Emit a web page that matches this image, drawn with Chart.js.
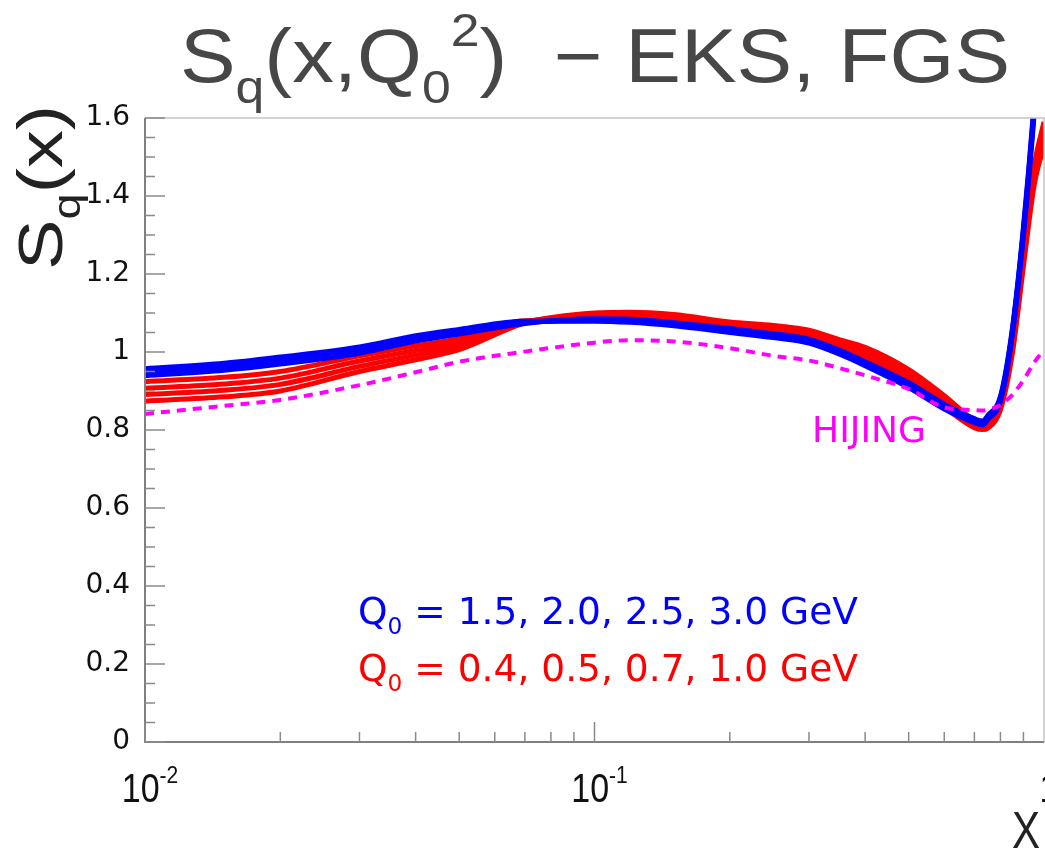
<!DOCTYPE html>
<html>
<head>
<meta charset="utf-8">
<script src="https://cdn.jsdelivr.net/npm/chart.js@4.4.1/dist/chart.umd.min.js"></script>
<style>
  html, body { margin: 0; padding: 0; background: #fff; }
  #wrap { position: relative; width: 1045px; height: 851px; }
</style>
</head>
<body>
<div id="wrap"><canvas id="sqChart" width="1045" height="851"></canvas></div>
<script>
// x grid shared by every curve (log axis 1e-2 .. 1)
const xGrid = [0.01, 0.015, 0.02, 0.03, 0.04, 0.05, 0.07, 0.1, 0.12, 0.15, 0.2, 0.25, 0.3, 0.35, 0.4, 0.5, 0.6, 0.7, 0.73, 0.75, 0.8, 0.85, 0.9, 0.95, 1.0];

// EKS-like curves, Q0 = 1.5, 2.0, 2.5, 3.0 GeV (blue)
const blue15 = [0.957, 0.971, 0.987, 1.013, 1.042, 1.058, 1.079, 1.079, 1.076, 1.067, 1.050, 1.037, 1.023, 0.995, 0.965, 0.909, 0.854, 0.819, 0.813, 0.827, 0.874, 1.043, 1.300, 1.605, 1.980];
const blue20 = [0.951, 0.965, 0.981, 1.008, 1.037, 1.054, 1.077, 1.081, 1.079, 1.070, 1.053, 1.040, 1.026, 0.998, 0.968, 0.913, 0.858, 0.822, 0.816, 0.830, 0.878, 1.048, 1.307, 1.615, 1.993];
const blue25 = [0.945, 0.959, 0.975, 1.002, 1.033, 1.050, 1.075, 1.083, 1.081, 1.072, 1.057, 1.044, 1.030, 1.002, 0.972, 0.917, 0.862, 0.826, 0.820, 0.834, 0.882, 1.053, 1.313, 1.625, 2.007];
const blue30 = [0.939, 0.953, 0.969, 0.997, 1.028, 1.046, 1.073, 1.085, 1.084, 1.075, 1.060, 1.047, 1.033, 1.005, 0.975, 0.921, 0.866, 0.829, 0.823, 0.837, 0.886, 1.058, 1.320, 1.635, 2.020];

// FGS-like curves, Q0 = 0.4, 0.5, 0.7, 1.0 GeV (red)
const red04 = [0.924, 0.935, 0.950, 0.990, 1.016, 1.034, 1.080, 1.082, 1.082, 1.074, 1.055, 1.044, 1.032, 1.004, 0.982, 0.919, 0.858, 0.806, 0.801, 0.805, 0.852, 0.995, 1.220, 1.425, 1.530];
const red05 = [0.907, 0.918, 0.933, 0.977, 1.004, 1.025, 1.078, 1.088, 1.089, 1.081, 1.062, 1.052, 1.040, 1.013, 0.992, 0.931, 0.868, 0.812, 0.806, 0.810, 0.859, 1.005, 1.233, 1.442, 1.550];
const red07 = [0.891, 0.902, 0.917, 0.963, 0.992, 1.015, 1.076, 1.094, 1.095, 1.089, 1.070, 1.060, 1.048, 1.023, 1.002, 0.943, 0.878, 0.818, 0.810, 0.814, 0.865, 1.015, 1.247, 1.458, 1.570];
const red10 = [0.874, 0.885, 0.900, 0.950, 0.980, 1.006, 1.074, 1.100, 1.102, 1.096, 1.077, 1.068, 1.056, 1.032, 1.012, 0.955, 0.888, 0.824, 0.815, 0.819, 0.872, 1.025, 1.260, 1.475, 1.590];

// HIJING parametrisation (magenta dashed)
const hijing = [0.841, 0.862, 0.877, 0.915, 0.948, 0.975, 1.001, 1.024, 1.030, 1.027, 1.010, 0.990, 0.978, 0.959, 0.940, 0.905, 0.858, 0.851, 0.850, 0.852, 0.864, 0.890, 0.928, 0.972, 1.005];

// axis tick labels
const xTickValues = [0.01, 0.1, 1];
const xTickLabels = [["10", "-2"], ["10", "-1"], ["1", ""]];
const blueLabel = "1.5, 2.0, 2.5, 3.0 GeV";
const redLabel = "0.4, 0.5, 0.7, 1.0 GeV";

function series(values) {
  return xGrid.map((x, i) => ({ x: x, y: values[i] }));
}

// --- small helpers for text with sub/superscripts ---
function partFont(p, size, family) {
  const s = p[1] ? size * 0.62 : size;
  return s + "px " + family;
}
function richWidth(ctx, parts, size, family) {
  let w = 0;
  parts.forEach((p) => {
    ctx.font = partFont(p, size, family);
    w += ctx.measureText(p[0]).width;
  });
  return w;
}
function drawRich(ctx, parts, x, y, size, family, color, width) {
  const natural = richWidth(ctx, parts, size, family);
  const sx = width ? width / natural : 1;
  ctx.save();
  ctx.translate(x, y);
  ctx.scale(sx, 1);
  ctx.fillStyle = color;
  ctx.textAlign = "left";
  ctx.textBaseline = "alphabetic";
  let cx = 0;
  parts.forEach((p) => {
    ctx.font = partFont(p, size, family);
    let dy = 0;
    if (p[1] === "sub") dy = size * 0.28;
    if (p[1] === "sup") dy = -size * 0.48;
    ctx.fillText(p[0], cx, dy);
    cx += ctx.measureText(p[0]).width;
  });
  ctx.restore();
}

const framePlugin = {
  id: "frame",
  afterDatasetsDraw(chart) {
    const ctx = chart.ctx;
    const a = chart.chartArea;
    const xs = chart.scales.x;
    const ys = chart.scales.y;

    ctx.save();
    // frame
    ctx.lineWidth = 1.5;
    ctx.strokeStyle = "#c4c4c4";
    ctx.beginPath();
    ctx.moveTo(a.left, a.top);
    ctx.lineTo(a.right, a.top);
    ctx.lineTo(a.right, a.bottom);
    ctx.stroke();
    ctx.lineWidth = 2;
    ctx.strokeStyle = "#808080";
    ctx.beginPath();
    ctx.moveTo(a.left, a.top);
    ctx.lineTo(a.left, a.bottom);
    ctx.lineTo(a.right, a.bottom);
    ctx.stroke();

    // inward ticks, y every 0.05, major every 0.2
    ctx.lineWidth = 1.5;
    ctx.strokeStyle = "#8a8a8a";
    ctx.beginPath();
    for (let k = 0; k <= 32; k++) {
      const py = ys.getPixelForValue(k * 0.05);
      const len = k % 4 === 0 ? 20 : 10;
      ctx.moveTo(a.left, py);
      ctx.lineTo(a.left + len, py);
    }
    // x ticks: 2..9 per decade minor, decades major
    [0.01, 0.1].forEach((dec) => {
      for (let m = 1; m <= 9; m++) {
        const px = xs.getPixelForValue(dec * m);
        const len = m === 1 ? 20 : 10;
        ctx.moveTo(px, a.bottom);
        ctx.lineTo(px, a.bottom - len);
      }
    });
    ctx.stroke();

    // x tick labels with exponents
    xTickValues.forEach((v, i) => {
      const lab = xTickLabels[i];
      const parts = lab[1] ? [[lab[0]], [lab[1], "sup"]] : [[lab[0]]];
      const w = richWidth(ctx, parts, 40, "Liberation Sans") * 0.85;
      const px = xs.getPixelForValue(v);
      drawRich(ctx, parts, px - w / 2 + 5, 802, 40, "Liberation Sans", "#111", w);
    });

    // axis titles
    drawRich(ctx, [["X"]], 1012, 848, 52, "Liberation Sans", "#222", 28);
    ctx.save();
    ctx.translate(62, 270);
    ctx.rotate(-Math.PI / 2);
    drawRich(ctx, [["S"], ["q", "sub"], ["(x)"]], 0, 0, 63, "Liberation Sans", "#222", 165);
    ctx.restore();

    // main title
    drawRich(ctx, [["S"], ["q", "sub"], ["(x,Q"], ["0", "sub"], ["2", "sup"], [")  \u2212 EKS, FGS"]],
      180, 82, 76, "Liberation Sans", "#474747", 830);

    // in-plot annotations
    drawRich(ctx, [["HIJING"]], 812, 442, 35, "DejaVu Sans", "#ff00ff", 114);
    drawRich(ctx, [["Q"], ["0", "sub"], [" = " + blueLabel]], 358, 624, 37, "DejaVu Sans", "#0000ff", 500);
    drawRich(ctx, [["Q"], ["0", "sub"], [" = " + redLabel]], 358, 681, 37, "DejaVu Sans", "#ff0000", 500);
    ctx.restore();
  },
};

function lineSet(label, values, color, order) {
  return {
    label: label,
    data: series(values),
    borderColor: color,
    backgroundColor: color,
    borderWidth: 5,
    pointRadius: 0,
    fill: false,
    cubicInterpolationMode: "monotone",
    clip: 0,
    order: order,
  };
}

const datasets = [
  Object.assign(lineSet("HIJING", hijing, "#ff00ff", 0), { borderWidth: 4, borderDash: [9, 7] }),
  lineSet("Q0=1.5", blue15, "#0000ff", 1),
  lineSet("Q0=2.0", blue20, "#0000ff", 1),
  lineSet("Q0=2.5", blue25, "#0000ff", 1),
  lineSet("Q0=3.0", blue30, "#0000ff", 1),
  lineSet("Q0=0.4", red04, "#ff0000", 2),
  lineSet("Q0=0.5", red05, "#ff0000", 2),
  lineSet("Q0=0.7", red07, "#ff0000", 2),
  lineSet("Q0=1.0", red10, "#ff0000", 2),
];

const ctx = document.getElementById("sqChart").getContext("2d");
const chart = new Chart(ctx, {
  type: "line",
  data: { datasets },
  options: {
    responsive: false,
    animation: false,
    devicePixelRatio: 1,
    layout: { padding: { left: 0, right: 1, top: 118, bottom: 0 } },
    plugins: {
      legend: { display: false },
      tooltip: { enabled: false },
      title: { display: false },
    },
    scales: {
      x: {
        type: "logarithmic",
        min: 0.01,
        max: 1,
        grid: { display: false, drawTicks: false },
        border: { display: false },
        ticks: { display: false },
        afterFit: (s) => { s.height = 109; },
      },
      y: {
        type: "linear",
        min: 0,
        max: 1.6,
        grid: { display: false, drawTicks: false },
        border: { display: false },
        ticks: {
          stepSize: 0.2,
          padding: 15,
          color: "#111",
          font: { family: "DejaVu Sans", size: 28 },
          callback: (v) => String(Math.round(v * 10) / 10),
        },
        afterFit: (s) => { s.width = 145; },
      },
    },
  },
  plugins: [framePlugin],
});
</script>
</body>
</html>
